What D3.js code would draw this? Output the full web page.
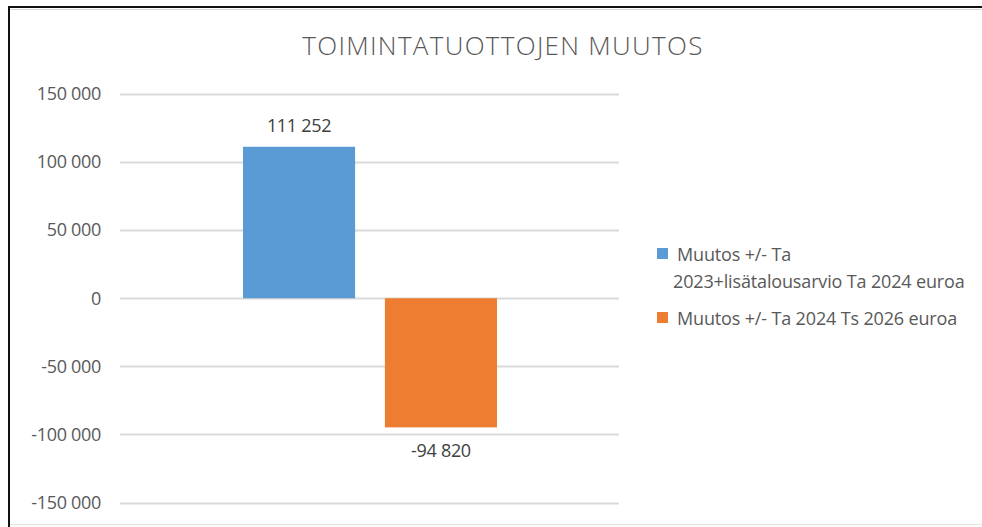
<!DOCTYPE html>
<html><head><meta charset="utf-8">
<script src="https://cdn.jsdelivr.net/npm/d3@7"></script>
<style>html,body{margin:0;background:#fff;overflow:hidden;}svg{display:block;font-family:"Open Sans",Calibri,sans-serif;}</style>
</head><body>
<svg id="c" width="982" height="527"></svg>
<script>
const title = "TOIMINTATUOTTOJEN MUUTOS";
const categories = [""];
const seriesNames = ["Muutos +/- Ta 2023+lisätalousarvio Ta 2024 euroa", "Muutos +/- Ta 2024 Ts 2026 euroa"];
const legendLines = [["Muutos +/- Ta", "2023+lisätalousarvio Ta 2024 euroa"], ["Muutos +/- Ta 2024 Ts 2026 euroa"]];
const seriesValues = [[111252], [-94820]];
const seriesColors = ["#5B9BD5", "#ED7D31"];
const yTicks = [-150000, -100000, -50000, 0, 50000, 100000, 150000];

const svg = d3.select("#c");
const loc = d3.formatLocale({decimal: ",", thousands: "\u00a0", grouping: [3], currency: ["", "€"], minus: "-"});
const fmt = loc.format(",d");

// frame
svg.append("line").attr("x1", 9).attr("x2", 982).attr("y1", 7).attr("y2", 7).attr("stroke", "#111").attr("stroke-width", 2);
svg.append("line").attr("x1", 9).attr("x2", 9).attr("y1", 6).attr("y2", 527).attr("stroke", "#111").attr("stroke-width", 2);
svg.append("line").attr("x1", 10).attr("x2", 982).attr("y1", 9.5).attr("y2", 9.5).attr("stroke", "#d9d9d9").attr("stroke-width", 1);
svg.append("line").attr("x1", 10).attr("x2", 982).attr("y1", 524.5).attr("y2", 524.5).attr("stroke", "#e6e6e6").attr("stroke-width", 1);

const y = d3.scaleLinear().domain([-150000, 150000]).range([502.5, 94]);
const x0 = d3.scaleBand().domain(categories).range([120, 619]);
const x1 = d3.scaleBand().domain(d3.range(seriesNames.length)).range([243, 497]).paddingInner(0.21);

// gridlines
svg.append("g").selectAll("line").data(yTicks).join("line")
  .attr("x1", 120).attr("x2", 619)
  .attr("y1", d => Math.round(y(d)) + 0.5).attr("y2", d => Math.round(y(d)) + 0.5)
  .attr("stroke", "#d9d9d9").attr("stroke-width", 2);

// y axis labels
const yAxis = d3.axisLeft(y).tickValues(yTicks).tickFormat(fmt).tickSize(0).tickPadding(0);
const ga = svg.append("g").attr("transform", "translate(101,0)").call(yAxis);
ga.select(".domain").remove();
ga.selectAll("text").attr("fill", "#595959").style("font-size", "18px").style("font-family", "'Open Sans',sans-serif").attr("letter-spacing", "-0.3");

// bars
seriesValues.forEach((vals, si) => {
  categories.forEach((c, ci) => {
    const v = vals[ci];
    const bx = x1(si);
    svg.append("rect")
      .attr("x", bx).attr("width", x1.bandwidth())
      .attr("y", y(Math.max(0, v))).attr("height", Math.abs(y(v) - y(0)))
      .attr("fill", seriesColors[si]);
    svg.append("text")
      .attr("x", bx + x1.bandwidth() / 2)
      .attr("y", v >= 0 ? y(v) - 15 : y(v) + 30)
      .attr("text-anchor", "middle").attr("fill", "#404040")
      .style("font-size", "18px").attr("letter-spacing", "-0.3")
      .text(fmt(v));
  });
});

// title
svg.append("text").attr("x", 503).attr("y", 55).attr("text-anchor", "middle")
  .attr("fill", "#595959").style("font-size", "26px").style("font-weight", "300").attr("letter-spacing", "1.3")
  .text(title);

// legend
const legendY = [254, 318];
legendLines.forEach((lines, i) => {
  svg.append("rect").attr("x", 657).attr("y", legendY[i] - 6).attr("width", 11).attr("height", 11).attr("fill", seriesColors[i]);
  const t = svg.append("text").attr("fill", "#595959").style("font-size", "18px").attr("letter-spacing", "-0.15");
  lines.forEach((ln, j) => {
    t.append("tspan").attr("x", j === 0 ? 677 : 673).attr("y", legendY[i] + 7 + j * 27).text(ln);
  });
});
</script>
</body></html>
